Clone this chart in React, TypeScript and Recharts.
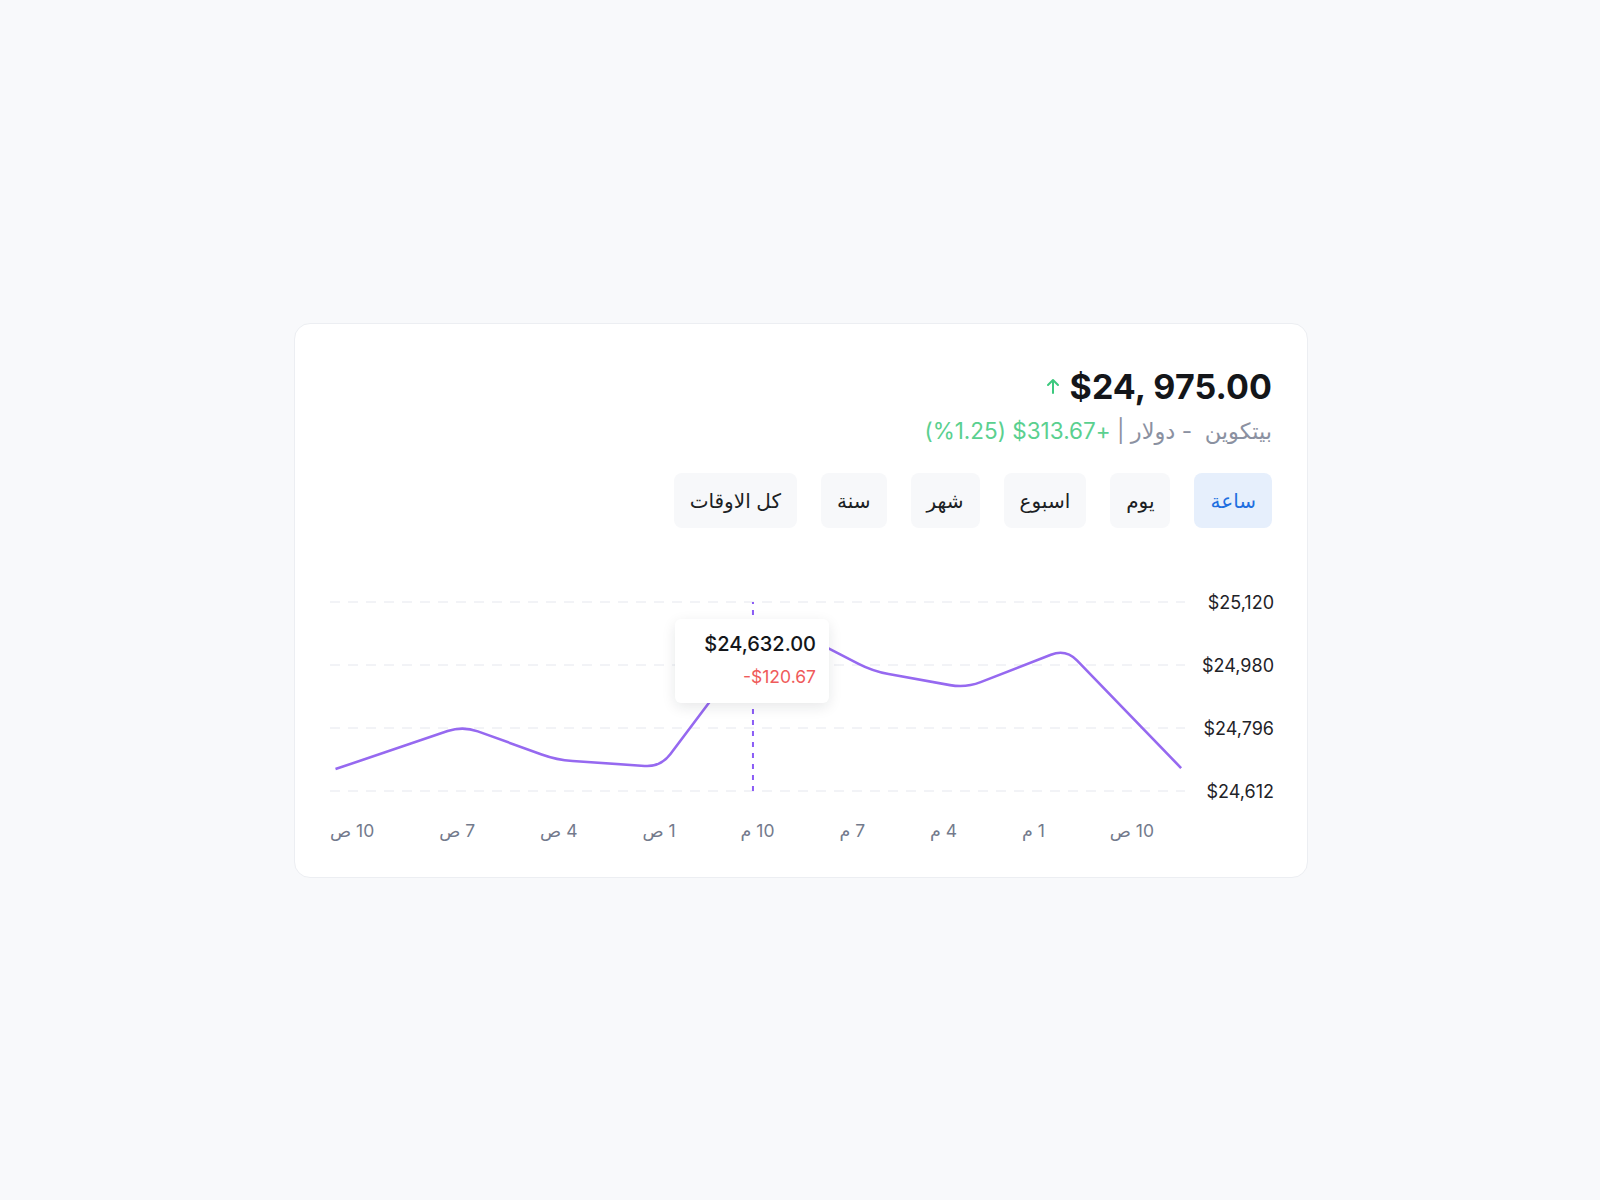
import React from "react";
import {
  LineChart, Line, XAxis, YAxis, CartesianGrid, ReferenceLine,
} from "recharts";

// hours after 10 AM (the time axis runs right to left)
const hours = [-1.58, 1.98, 5.07, 7.94, 11.06, 14.49, 17.7, 20.6, 24.53];
const prices = [24679, 25027, 24913, 24962, 25114, 24682, 24703, 24802, 24676];

// labels listed from the right edge to the left edge
const xTickLabels = ["10 ص", "1 م", "4 م", "7 م", "10 م", "1 ص", "4 ص", "7 ص", "10 ص"];

const yTicks = [24612, 24796, 24980, 25164];
const yTickLabels = ["$24,612", "$24,796", "$24,980", "$25,120"];

const ranges = ["ساعة", "يوم", "اسبوع", "شهر", "سنة", "كل الاوقات"];
const activeRange = "ساعة";

const price = "$24, 975.00";
const pair = "بيتكوين  - دولار | ";
const change = "(%1.25) $313.67+";

const tooltipHour = 11.64;
const tooltipPrice = "$24,632.00";
const tooltipDelta = "-$120.67";

const data = hours.map((h, i) => ({ h, price: prices[i] }));

const FONT = "Inter, 'DejaVu Sans', sans-serif";
const Y_AXIS_W = 89;

// straight segments with softly rounded corners
function roundedLinear(context: any) {
  let pts: [number, number][] = [];
  return {
    areaStart() {},
    areaEnd() {},
    lineStart() { pts = []; },
    point(x: number, y: number) { pts.push([+x, +y]); },
    lineEnd() {
      const r = 16;
      pts.forEach(([x, y], i) => {
        if (i === 0) { context.moveTo(x, y); return; }
        if (i === pts.length - 1) { context.lineTo(x, y); return; }
        const [px, py] = pts[i - 1];
        const [nx, ny] = pts[i + 1];
        const d1 = Math.hypot(x - px, y - py);
        const d2 = Math.hypot(nx - x, ny - y);
        const a = Math.min(r, d1 / 2) / d1;
        const b = Math.min(r, d2 / 2) / d2;
        context.lineTo(x - (x - px) * a, y - (y - py) * a);
        context.quadraticCurveTo(x, y, x + (nx - x) * b, y + (ny - y) * b);
      });
    },
  };
}

function YTick(props: any) {
  const { x, y, payload } = props;
  const idx = yTicks.indexOf(payload.value);
  return (
    <text x={x + Y_AXIS_W} y={y} textAnchor="end" dominantBaseline="central"
      fontSize={18} fill="#1f2328" fontFamily={FONT}>
      {yTickLabels[idx]}
    </text>
  );
}

export default function App() {
  return (
    <div style={{ position: "absolute", left: 0, top: 0, width: 1600, height: 1200, background: "#f8f9fb", fontFamily: FONT }}>
      <div style={{
        position: "absolute", left: 294, top: 323, width: 1014, height: 555, boxSizing: "border-box",
        background: "#fff", border: "1px solid #eceef2", borderRadius: 16,
      }}>
        <div style={{ position: "absolute", right: 35, top: 42, display: "flex", alignItems: "center", gap: 10, height: 40 }}>
          <svg width="14" height="16" viewBox="0 0 14 16">
            <path d="M7 15V2M2 7l5-5 5 5" stroke="#3cc97e" strokeWidth="2" fill="none" strokeLinecap="round" strokeLinejoin="round" />
          </svg>
          <span style={{ fontSize: 34, fontWeight: 700, color: "#14161a", letterSpacing: 0.1 }}>{price}</span>
        </div>
        <div dir="rtl" style={{ position: "absolute", right: 35, top: 92, fontSize: 22.5, lineHeight: "30px", color: "#8b91a1", whiteSpace: "pre" }}>
          {pair}
          <span dir="ltr" style={{ color: "#5ad08f", unicodeBidi: "bidi-override", letterSpacing: 0.4 }}>{change}</span>
        </div>
        <div dir="rtl" style={{ position: "absolute", right: 35, top: 149, display: "flex", gap: 24 }}>
          {ranges.map((r) => {
            const on = r === activeRange;
            return (
              <div key={r} style={{
                height: 55, padding: "0 16px", borderRadius: 8, display: "flex", alignItems: "center",
                fontSize: 20, background: on ? "#e6effc" : "#f7f8fa", color: on ? "#1f6fe0" : "#1c1f24",
              }}>{r}</div>
            );
          })}
        </div>
        <div style={{ position: "absolute", left: 35, top: 268 }}>
          <LineChart width={944} height={219} data={data} margin={{ top: 10, right: 0, bottom: 20, left: 0 }}>
            <CartesianGrid vertical={false} stroke="#e5e7ee" strokeDasharray="10 8" />
            <XAxis dataKey="h" type="number" domain={[-1.7, 24.7]} reversed hide allowDataOverflow />
            <YAxis orientation="right" width={Y_AXIS_W} domain={[24612, 25164]} ticks={yTicks}
              axisLine={false} tickLine={false} tickSize={0} tickMargin={0} tick={<YTick />} interval={0} />
            <ReferenceLine x={tooltipHour} stroke="#8b5cf6" strokeWidth={2} strokeDasharray="5 6" />
            <Line dataKey="price" type={roundedLinear as any} stroke="#9669f0" strokeWidth={2.6}
              dot={false} activeDot={false} isAnimationActive={false} />
          </LineChart>
          <div style={{
            position: "absolute", left: 674 - 329, top: 618 - 591, width: 154, height: 84, boxSizing: "border-box",
            background: "#fff", borderRadius: 6, boxShadow: "0 4px 14px rgba(20,25,40,0.10)",
            padding: "12px 13px 0 0", textAlign: "right",
          }}>
            <div style={{ fontSize: 20, fontWeight: 500, color: "#14161a", lineHeight: "26px" }}>{tooltipPrice}</div>
            <div style={{ fontSize: 17.5, color: "#ef5b5b", lineHeight: "22px", marginTop: 9 }}>{tooltipDelta}</div>
          </div>
        </div>
        <div dir="rtl" style={{
          position: "absolute", left: 35, top: 494, width: 824, display: "flex", justifyContent: "space-between",
          fontSize: 17.5, lineHeight: "26px", color: "#737a8c",
        }}>
          {xTickLabels.map((l, i) => <span key={i}>{l}</span>)}
        </div>
      </div>
    </div>
  );
}
